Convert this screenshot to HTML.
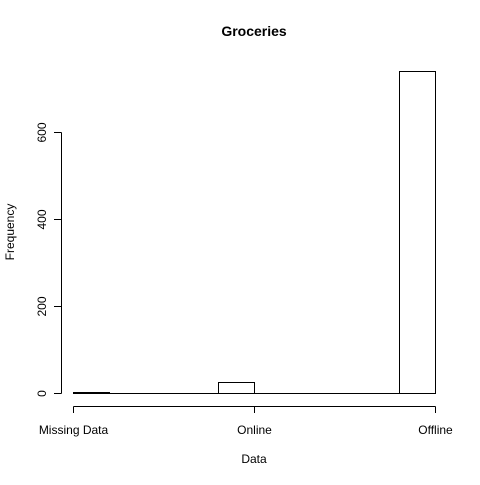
<!DOCTYPE html>
<html><head><meta charset="utf-8"><style>
body{margin:0;background:#fff}
svg text{font-family:"Liberation Sans",Arial,sans-serif;font-size:12px;fill:#000}
</style></head><body>
<svg id="chart" width="480" height="480">
<rect width="480" height="480" fill="#fff"/>
<text x="254" y="36" text-anchor="middle" font-weight="bold" style="font-size:14px">Groceries</text>
<text x="254" y="463" text-anchor="middle">Data</text>
<text transform="translate(14,232) rotate(-90)" text-anchor="middle">Frequency</text>
<g id="bars"></g><g id="yaxis"></g><g id="xaxis"></g>
</svg>
<script>
const breaks = [1,1.2,1.4,1.6,1.8,2.0,2.2,2.4,2.6,2.8,3.0];
const counts = [2,0,0,0,25,0,0,0,0,740];
const yTicks = [0,200,400,600];
const xTickVals = [1,2,3];
const xTickLabels = ["Missing Data","Online","Offline"];
const NS="http://www.w3.org/2000/svg";
const xs=v=>Math.round(73+(v-1)*181)+0.5;
const ys=v=>Math.round(393-v*87/200)+0.5;
function mk(t,a,p){const e=document.createElementNS(NS,t);for(const k in a)e.setAttribute(k,a[k]);p.appendChild(e);return e;}
const bars=document.getElementById('bars');
counts.forEach((c,i)=>{
  const x0=xs(breaks[i]),x1=xs(breaks[i+1]),y0=ys(0),y1=ys(c);
  const r=mk('path',{d:`M${x0},${y0}L${x0},${y1}L${x1},${y1}L${x1},${y0}Z`,fill:'none',stroke:'#000','stroke-width':1},bars);
  
  
});
const ya=document.getElementById('yaxis');
mk('line',{x1:61.5,x2:61.5,y1:ys(yTicks[0]),y2:ys(yTicks[yTicks.length-1]),stroke:'#000'},ya);
yTicks.forEach(t=>{
  mk('line',{x1:54,x2:61.5,y1:ys(t),y2:ys(t),stroke:'#000'},ya);
  const tx=mk('text',{transform:`translate(46,${ys(t)}) rotate(-90)`,'text-anchor':'middle'},ya);
  tx.textContent=t;
  
  
});
const xa=document.getElementById('xaxis');
mk('line',{x1:xs(xTickVals[0]),x2:xs(xTickVals[xTickVals.length-1]),y1:406.5,y2:406.5,stroke:'#000'},xa);
xTickVals.forEach((v,i)=>{
  mk('line',{x1:xs(v),x2:xs(v),y1:406.5,y2:413,stroke:'#000'},xa);
  const tx=mk('text',{x:xs(v),y:434,'text-anchor':'middle'},xa);
  tx.textContent=xTickLabels[i];
  
  
});
</script>
</body></html>
